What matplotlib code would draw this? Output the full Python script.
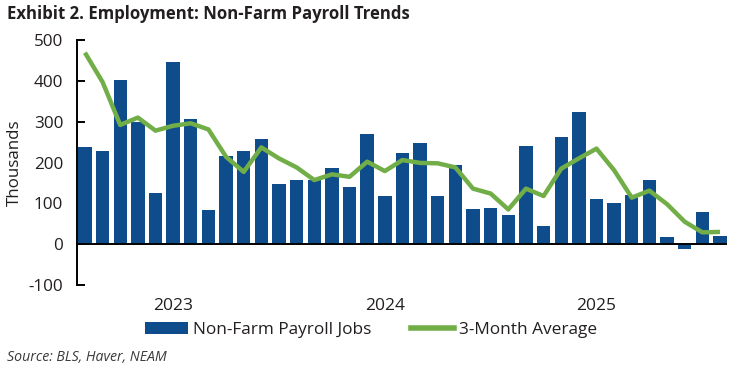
import numpy as np
import matplotlib
matplotlib.use('Agg')
import matplotlib.pyplot as plt
from matplotlib.patches import Patch
from matplotlib.lines import Line2D

# monthly non-farm payroll change, Aug 2022 - Aug 2025 (thousands)
jobs = [238, 229, 402, 300, 126, 446, 306, 83, 216, 228, 257, 147,
        157, 157, 186, 139, 270, 118, 223, 248, 118, 194, 86, 88,
        71, 240, 44, 262, 323, 110, 100, 120, 157, 17, -13, 78, 20]
avg3 = [469, 397, 292, 310, 278, 290, 296, 281, 214, 177, 237, 210,
        188, 157, 171, 165, 202, 179, 206, 199, 198, 188, 136, 124,
        85, 136, 118, 185, 210, 234, 181, 114, 131, 98, 55, 29, 30]
year_labels = ['2023', '2024', '2025']
year_pos = [5, 17, 29]  # January of each year

bar_color = '#0F4C8C'
line_color = '#72AE48'
txt = '#231F20'

plt.rcParams['font.family'] = ['Open Sans', 'DejaVu Sans']

fig = plt.figure(figsize=(7.39, 3.70), dpi=100)
ax = fig.add_axes([0.1042, 0.2297, 0.8796, 0.6622])

x = np.arange(len(jobs))
ax.bar(x, jobs, width=0.76, color=bar_color, zorder=2)
ax.plot(x, avg3, color=line_color, lw=3.2, zorder=3, solid_capstyle='butt')
ax.axhline(0, color='black', lw=1.4, zorder=4)

ax.set_xlim(-0.45, 36.4)
ax.set_ylim(-100, 500)
ax.set_yticks(range(-100, 501, 100))
ax.set_yticklabels([str(v) for v in range(-100, 501, 100)], color=txt, fontsize=12.3)
ax.tick_params(axis='y', direction='in', length=6, width=1.4, pad=10)
ax.set_xticks(year_pos)
ax.set_xticklabels(year_labels, fontsize=12.5, color=txt)
ax.tick_params(axis='x', length=0, pad=9)

for s in ['top', 'right', 'bottom']:
    ax.spines[s].set_visible(False)
ax.spines['left'].set_linewidth(1.4)

ax.set_ylabel('Thousands', fontsize=12.2, color=txt, labelpad=4)

fig.text(0.01, 0.962, 'Exhibit 2. Employment: Non-Farm Payroll Trends',
         fontsize=12.1, fontweight='bold', color=txt, va='center')
fig.text(0.009, 0.033, 'Source: BLS, Haver, NEAM', fontsize=10.2,
         style='italic', color='#3a3a3a', va='center')

handles = [Patch(facecolor=bar_color), Line2D([0], [0], color=line_color, lw=4)]
fig.legend(handles, ['Non-Farm Payroll Jobs', '3-Month Average'],
           loc='center', bbox_to_anchor=(0.502, 0.108), ncol=2, frameon=False,
           fontsize=12.4, handlelength=2.5, handletextpad=0.3, columnspacing=2.3,
           labelcolor=txt)

fig.savefig('out.png', dpi=100)
